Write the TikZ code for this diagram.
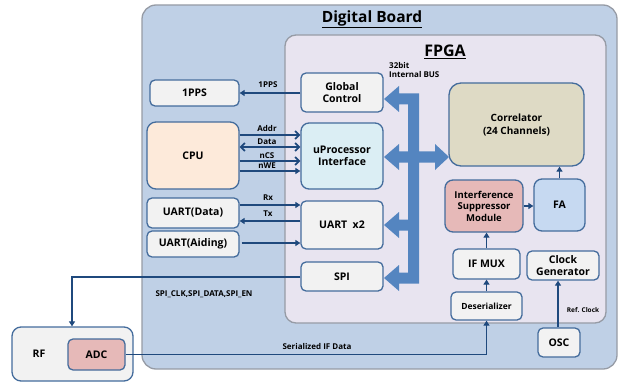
\documentclass[tikz,border=0pt]{standalone}
\usepackage{fontspec}
\setmainfont{Open Sans}
\usetikzlibrary{arrows.meta}
\definecolor{boardfill}{RGB}{191,208,230}
\definecolor{boardline}{RGB}{150,155,165}
\definecolor{fpgafill}{RGB}{232,228,240}
\definecolor{boxfill}{RGB}{242,242,242}
\definecolor{boxline}{RGB}{68,108,156}
\definecolor{wire}{RGB}{31,73,125}
\definecolor{busblue}{RGB}{84,133,192}
\definecolor{cpufill}{RGB}{253,234,218}
\definecolor{upfill}{RGB}{219,238,244}
\definecolor{corrfill}{RGB}{222,218,197}
\definecolor{pinkfill}{RGB}{230,185,184}
\definecolor{fafill}{RGB}{198,217,241}
\tikzset{
  box/.style={draw=boxline, line width=1.3pt, fill=boxfill, rounded corners=5pt,
    align=center, inner sep=0pt, font=\fontsize{10.5}{12.5}\selectfont\bfseries},
  wireline/.style={draw=wire, line width=1.8pt},
  tip/.style={wireline, -{Triangle[length=5pt,width=6pt]}},
  bartip/.style={wireline, -{Straight Barb[length=4pt,width=8pt]}},
  bothbar/.style={wireline, {Straight Barb[length=4pt,width=8pt]}-{Straight Barb[length=4pt,width=8pt]}},
  lbl/.style={font=\fontsize{8}{9}\selectfont\bfseries, inner sep=0pt},
  title/.style={font=\fontsize{15.5}{17}\selectfont\bfseries, inner sep=0pt}
}
\begin{document}
\begin{tikzpicture}[x=1pt,y=-1pt]
\useasboundingbox (0,0) rectangle (620,382);

% board and FPGA frames
\draw[fill=boardfill, draw=boardline, line width=1.3pt, rounded corners=14pt] (142,5) rectangle (617,369);
\draw[fill=fpgafill, draw=boardline, line width=1.3pt, rounded corners=11pt] (285,35) rectangle (606,323);
\node[title] (boardtitle) at (372,19) {\underline{Digital Board}};
\node[title, font=\fontsize{16}{18}\selectfont\bfseries] (fpgatitle) at (445,52) {\underline{FPGA}};

% 32-bit internal bus
\fill[busblue] (419,93.5) -- (419,151.5) -- (435,151.5) -- (435,144) -- (449,157) -- (435,170) -- (435,162.5)
  -- (419,162.5) -- (419,283.5) -- (399,283.5) -- (399,291) -- (384,278) -- (399,265) -- (399,272.5)
  -- (408,272.5) -- (408,230.5) -- (399,230.5) -- (399,238) -- (384,225) -- (399,212) -- (399,219.5)
  -- (408,219.5) -- (408,162.5) -- (399,162.5) -- (399,170) -- (384,157) -- (399,144) -- (399,151.5)
  -- (408,151.5) -- (408,104.5) -- (399,104.5) -- (399,112) -- (384,99) -- (399,86) -- (399,93.5) -- cycle;
\node[lbl, align=left, anchor=north west] (buslbl) at (389,62) {32bit\\Internal BUS};

% blocks outside the FPGA
\node[box, minimum width=89, minimum height=26] (pps) at (194.5,93) {1PPS};
\node[box, fill=cpufill, rounded corners=9pt, minimum width=92, minimum height=67] (cpu) at (193,155.5) {CPU};
\node[box, minimum width=92, minimum height=30] (uartd) at (193,213) {UART(Data)};
\node[box, minimum width=92, minimum height=26] (uarta) at (193,244) {UART(Aiding)};
\node[box, minimum width=121, minimum height=54, rounded corners=9pt] (rf) at (72.5,354) {};
\node[font=\fontsize{10.5}{12.5}\selectfont\bfseries] (rftext) at (39,354) {RF};
\node[box, fill=pinkfill, minimum width=57, minimum height=31] (adc) at (96.5,354.5) {ADC};
\node[box, minimum width=42, minimum height=29] (osc) at (559,342.5) {OSC};

% blocks inside the FPGA
\node[box, minimum width=82, minimum height=39] (glob) at (342,92.5) {Global\\Control};
\node[box, fill=upfill, rounded corners=8pt, minimum width=82, minimum height=66] (uproc) at (342,156) {uProcessor\\Interface};
\node[box, minimum width=82, minimum height=48] (uartx) at (342,225) {UART\ \ x2};
\node[box, minimum width=82, minimum height=29] (spi) at (342,276.5) {SPI};
\node[box, fill=corrfill, rounded corners=12pt, minimum width=135, minimum height=83,
      font=\fontsize{10}{13}\selectfont\bfseries] (corr) at (516.5,124.5) {Correlator\\(24 Channels)};
\node[box, fill=pinkfill, rounded corners=8pt, minimum width=78, minimum height=52,
      font=\fontsize{9.5}{11.5}\selectfont\bfseries] (ism) at (484,206) {Interference\\Suppressor\\Module};
\node[box, fill=fafill, rounded corners=8pt, minimum width=51, minimum height=52] (fa) at (559.5,205) {FA};
\node[box, minimum width=67, minimum height=30] (ifmux) at (486.5,264) {IF MUX};
\node[box, minimum width=72, minimum height=29] (clk) at (563,265.5) {Clock\\Generator};
\node[box, minimum width=71, minimum height=28, font=\fontsize{8.5}{10}\selectfont\bfseries] (deser) at (486.5,306) {Deserializer};

% CPU bus signals
\draw[bartip] (cpu.east |- 0,135) -- (uproc.west |- 0,135);
\draw[bothbar] (cpu.east |- 0,147) -- (uproc.west |- 0,147);
\draw[bartip] (cpu.east |- 0,161) -- (uproc.west |- 0,161);
\draw[tip] (cpu.east |- 0,171) -- (uproc.west |- 0,171);
\node[lbl] (addrlbl) at (267,129) {Addr};
\node[lbl] (datalbl) at (267,142) {Data};
\node[lbl] (ncslbl) at (267,156) {nCS};
\node[lbl] (nwelbl) at (267,166) {nWE};

% 1PPS and UART links
\draw[tip] (glob.west |- 0,93) -- (pps.east);
\node[lbl] (ppslbl) at (268,85) {1PPS};
\draw[tip] (uartd.east |- 0,205) -- (uartx.west |- 0,205);
\draw[tip] (uartx.west |- 0,221) -- (uartd.east |- 0,221);
\draw[tip] ([xshift=2pt]uarta.east |- 0,243) -- (uartx.west |- 0,243);
\node[lbl] (rxlbl) at (268,198) {Rx};
\node[lbl] (txlbl) at (268,214) {Tx};

% RF control and data paths
\draw[tip] (spi.west |- 0,277) -- (72,277) -- (rf.north -| 72,0);
\node[lbl] (spilbl) at (204,294) {SPI\_CLK,SPI\_DATA,SPI\_EN};
\draw[tip] (adc.east) -- (adc.east -| deser.south) -- (deser.south);
\node[lbl] (serlbl) at (317,346) {Serialized IF Data};

% FPGA internal data path
\draw[tip] (deser.north) -- (ifmux.south);
\draw[tip] (ifmux.north) -- (ism.south -| ifmux.north);
\draw[tip] (ism.east) -- (fa.west |- ism.east);
\draw[tip] (fa.north) -- (corr.south -| fa.north);
\draw[tip] (osc.north -| 558,0) -- (clk.south -| 558,0);
\node[lbl, font=\fontsize{6.5}{8}\selectfont\bfseries] (reflbl) at (583,310) {Ref. Clock};
\end{tikzpicture}
\end{document}
